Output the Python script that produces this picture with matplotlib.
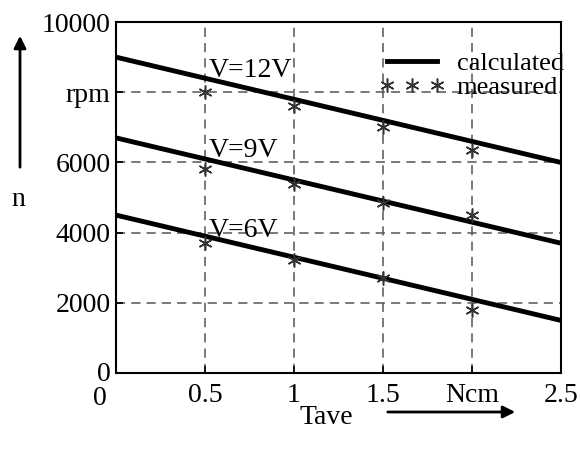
import numpy as np
import matplotlib
matplotlib.use("Agg")
from matplotlib import pyplot as plt
import matplotlib.transforms as mtrans

plt.rcParams['font.family'] = ['Liberation Serif', 'DejaVu Serif']

# calculated lines (end points)
t_line = [0, 2.5]
n12_calc = [9000, 6000]
n9_calc = [6700, 3700]
n6_calc = [4500, 1500]

# measured points
t_meas = [0.5, 1.0, 1.5, 2.0]
n12_meas = [8000, 7600, 7000, 6350]
n9_meas = [5800, 5380, 4850, 4500]
n6_meas = [3700, 3220, 2700, 1800]

xticks = [0, 0.5, 1, 1.5, 2, 2.5]
xlabels = ['0', '0.5', '1', '1.5', 'Ncm', '2.5']
yticks = [0, 2000, 4000, 6000, 8000, 10000]
ylabels = ['0', '2000', '4000', '6000', 'rpm', '10000']

fs = 20

fig = plt.figure(figsize=(5.8, 4.5), dpi=100)
ax = fig.add_axes([0.2, 0.171, 0.767, 0.78])

ast = (6, 2, 0)
ax.plot(t_line, n12_calc, color='black', lw=3.5, label='calculated')
ax.plot(t_line, n9_calc, color='black', lw=3.5)
ax.plot(t_line, n6_calc, color='black', lw=3.5)
ax.plot(t_meas, n12_meas, ls='none', marker=ast, ms=10, mec='#333333', mew=1.1, label='measured')
ax.plot(t_meas, n9_meas, ls='none', marker=ast, ms=10, mec='#333333', mew=1.1)
ax.plot(t_meas, n6_meas, ls='none', marker=ast, ms=10, mec='#333333', mew=1.1)

ax.text(0.52, 8620, 'V=12V', fontsize=fs, va='center')
ax.text(0.52, 6350, 'V=9V', fontsize=fs, va='center')
ax.text(0.52, 4070, 'V=6V', fontsize=fs, va='center')

ax.set_xlim(0, 2.5)
ax.set_ylim(0, 10000)
ax.set_xticks(xticks)
ax.set_xticklabels(xlabels, fontsize=fs)
ax.set_yticks(yticks)
ax.set_yticklabels(ylabels, fontsize=fs)
ax.tick_params(direction='in', length=5, width=1.2, pad=4)
ax.tick_params(axis='x', pad=7)
ax.grid(True, ls=(0, (6, 4)), color='#555555', lw=1.1)
for s in ax.spines.values():
    s.set_linewidth(1.5)

# shift the "0" on the x axis to the left like the original
lab0 = ax.get_xticklabels()[0]
lab0.set_transform(lab0.get_transform() + mtrans.ScaledTranslation(-0.16, -0.03, fig.dpi_scale_trans))
ylab0 = ax.get_yticklabels()[0]
ylab0.set_transform(ylab0.get_transform() + mtrans.ScaledTranslation(0, 0.02, fig.dpi_scale_trans))

leg = ax.legend(loc='upper right', frameon=False, fontsize=19, numpoints=3,
                handlelength=2.5, handletextpad=0.45, labelspacing=0.0,
                borderaxespad=0.0, bbox_to_anchor=(1.03, 0.945))

fig.text(18 / 580, 1 - 200 / 450, 'n', fontsize=fs, ha='center', va='center')
fig.text(326 / 580, 1 - 417 / 450, 'Tave', fontsize=fs, ha='center', va='center')
ax.annotate('', xy=(20 / 580, 1 - 33 / 450), xytext=(20 / 580, 1 - 170 / 450),
            xycoords='figure fraction', textcoords='figure fraction',
            arrowprops=dict(arrowstyle='-|>', color='black', lw=2, mutation_scale=18))
ax.annotate('', xy=(518 / 580, 1 - 412 / 450), xytext=(385 / 580, 1 - 412 / 450),
            xycoords='figure fraction', textcoords='figure fraction',
            arrowprops=dict(arrowstyle='-|>', color='black', lw=2, mutation_scale=18))

fig.savefig('out.png', dpi=100)
